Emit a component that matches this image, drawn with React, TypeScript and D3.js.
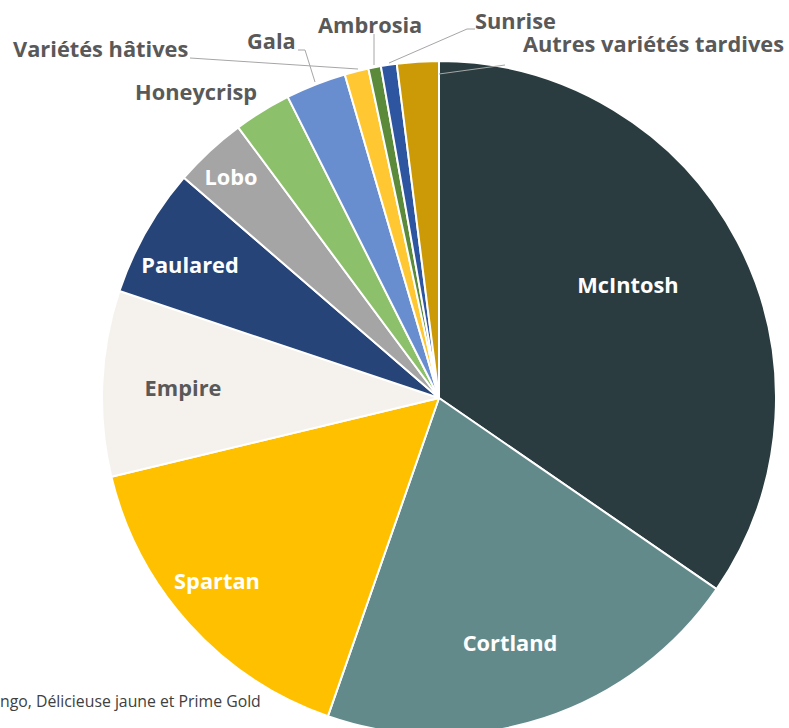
import React from "react";
import * as d3 from "d3";

const varieties = [
  "McIntosh",
  "Cortland",
  "Spartan",
  "Empire",
  "Paulared",
  "Lobo",
  "Honeycrisp",
  "Gala",
  "Variétés hâtives",
  "Ambrosia",
  "Sunrise",
  "Autres variétés tardives",
];
const shares = [34.6, 20.75, 15.9, 8.9, 6.2, 3.5, 2.75, 2.9, 1.15, 0.6, 0.76, 2.0];
const colors = [
  "#2A3C3F",
  "#638A8B",
  "#FFC000",
  "#F5F2EE",
  "#264478",
  "#A5A5A5",
  "#8DC06A",
  "#698ED0",
  "#FFC832",
  "#5A8A3A",
  "#2E55A0",
  "#CC9A06",
];
const labelColors = [
  "#FFFFFF", "#FFFFFF", "#FFFFFF", "#595959", "#FFFFFF", "#FFFFFF",
  "#595959", "#595959", "#595959", "#595959", "#595959", "#595959",
];
// label layout: [x, y, anchor]
const labelLayout: [number, number, string][] = [
  [628, 285, "middle"],
  [510, 643, "middle"],
  [217, 581, "middle"],
  [183, 388, "middle"],
  [190, 265, "middle"],
  [231, 177, "middle"],
  [135, 92, "start"],
  [247, 41, "start"],
  [13, 49, "start"],
  [318, 25, "start"],
  [475, 21, "start"],
  [523, 44, "start"],
];
// leader lines (polyline points)
const leaders: [number, number][][] = [
  [], [], [], [], [], [],
  [],
  [[298, 50], [305, 50], [315, 82]],
  [[190, 58], [358, 69]],
  [[374, 34], [374, 65]],
  [[475, 29], [467, 29], [389, 63]],
  [[505, 65], [439, 74]],
];
const footnote = "ngo, Délicieuse jaune et Prime Gold";

export default function App() {
  const W = 789, H = 728;
  const cx = 439, cy = 398, R = 337;
  const data = varieties.map((v, i) => ({ name: v, value: shares[i], i }));
  const pie = d3.pie<any>().sort(null).value((d) => d.value).startAngle(0).endAngle(2 * Math.PI);
  const arcs = pie(data);
  const arc = d3.arc<any>().innerRadius(0).outerRadius(R);
  const line = d3.line();
  const font = "'Open Sans', sans-serif";
  return (
    <svg width={W} height={H} style={{ position: "absolute", left: 0, top: 0, background: "#fff" }}>
      <g transform={`translate(${cx},${cy})`}>
        {arcs.map((a, i) => (
          <path key={i} d={arc(a) as string} fill={colors[i]} stroke="#fff" strokeWidth={2} strokeLinejoin="round" />
        ))}
      </g>
      {leaders.map((pts, i) =>
        pts.length ? (
          <path key={"l" + i} d={line(pts) as string} fill="none" stroke="#A6A6A6" strokeWidth={1} />
        ) : null
      )}
      {varieties.map((v, i) => (
        <text
          key={"t" + i}
          x={labelLayout[i][0]}
          y={labelLayout[i][1]}
          dy="0.36em"
          textAnchor={labelLayout[i][2] as any}
          fontFamily={font}
          fontWeight="bold"
          fontSize={21.8}
          fill={labelColors[i]}
        >
          {v}
        </text>
      ))}
      <text x={0} y={707} fontFamily="'Open Sans', sans-serif" fontSize={15.8} fill="#404040">
        {footnote}
      </text>
    </svg>
  );
}
